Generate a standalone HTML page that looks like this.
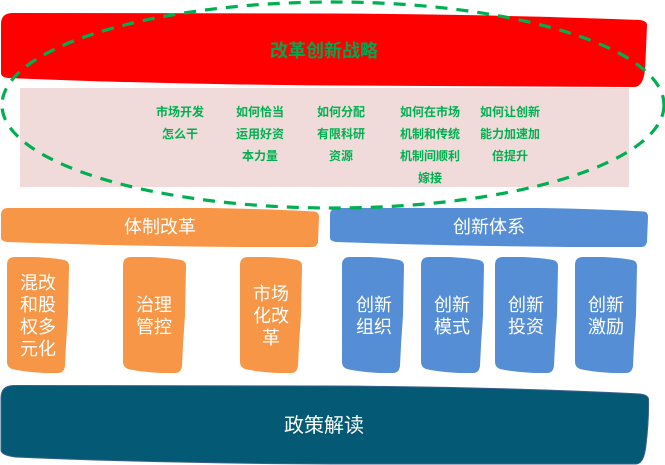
<!DOCTYPE html>
<html lang="zh">
<head>
<meta charset="utf-8">
<style>
html,body{margin:0;padding:0;background:#fff;width:665px;height:465px;overflow:hidden}
svg{display:block}
text{font-family:"Liberation Sans","Noto Sans CJK SC",sans-serif;text-anchor:middle;dominant-baseline:central}
.g{font-size:12px;font-weight:700;fill:#00B050}
.w{font-size:18px;fill:#fff}
</style>
</head>
<body>
<svg width="665" height="465" viewBox="0 0 665 465" xmlns="http://www.w3.org/2000/svg">
<path d="M1 24Q1 13 13 13L332 13.500Q500 14.500 640 20Q647 21 647 25Q646 50 645 70Q643 87 634 87L332 85.500Q150 84 8 78Q1 77 1 73Z" fill="#FF0000"/>
<rect x="20" y="88" width="609" height="99" fill="#F0DBDA"/>
<path d="M1 215Q1 208 8 208L210 208Q270 209 314 211.500Q319 212 319 217L318 242Q317 247 312 247L240 247Q120 246 7 242Q1 241 1 238Z" fill="#F79646"/>
<path d="M330 215Q330 208 337 208L540 208Q600 209 644 211.500Q648 212 648 217L647 242Q646 247 641 247L570 247Q450 246 336 242Q330 241 330 238Z" fill="#558ED5"/>
<g fill="#F79646">
<path d="M7 265Q7 257 15 257L35 257Q55 258 64 260Q69 261 69 266L68 315L66 345L65 366Q64 373 58 373L45 373Q25 372 12 369Q7 367 7 362Z"/>
<path d="M123 265Q123 257 131 257L151 257Q171 258 181 260Q186 261 186 266L185 315L183 345L182 366Q181 373 175 373L162 373Q141 372 128 369Q123 367 123 362Z"/>
<path d="M240 265Q240 257 248 257L268 257Q288 258 297 260Q302 261 302 266L301 315L299 345L298 366Q297 373 291 373L278 373Q258 372 245 369Q240 367 240 362Z"/>
</g>
<g fill="#558ED5">
<path d="M342 265Q342 257 350 257L370 257Q390 258 399 260Q404 261 404 266L403 315L401 345L400 366Q399 373 393 373L380 373Q360 372 347 369Q342 367 342 362Z"/>
<path d="M421 265Q421 257 429 257L449 257Q469 258 479 260Q484 261 484 266L483 315L481 345L480 366Q479 373 473 373L460 373Q439 372 426 369Q421 367 421 362Z"/>
<path d="M495 265Q495 257 503 257L523 257Q543 258 553 260Q558 261 558 266L557 315L555 345L554 366Q553 373 547 373L534 373Q513 372 500 369Q495 367 495 362Z"/>
<path d="M575 265Q575 257 583 257L603 257Q623 258 632 260Q637 261 637 266L636 315L634 345L633 366Q632 373 626 373L613 373Q593 372 580 369Q575 367 575 362Z"/>
</g>
<path d="M1 398Q1 385.500 14 385.500L332 386Q500 387 640 394Q648 395 648.500 399Q649 420 646 445Q644 464 636 464L332 464Q150 463 15 457Q1 455 1 450Z" fill="#045A75" stroke="#3B5F8C" stroke-width="1"/>
<ellipse cx="333" cy="105" rx="331" ry="103" fill="none" stroke="#00B050" stroke-width="3.200" stroke-dasharray="12 9"/>
<g transform="translate(0,1)">
<text x="324" y="50" font-size="18" font-weight="700" fill="#00A650">改革创新战略</text>
<text class="g" x="180" y="111">市场开发</text><text class="g" x="180" y="133">怎么干</text>
<text class="g" x="260" y="111">如何恰当</text><text class="g" x="260" y="133">运用好资</text><text class="g" x="260" y="155">本力量</text>
<text class="g" x="341" y="111">如何分配</text><text class="g" x="341" y="133">有限科研</text><text class="g" x="341" y="155">资源</text>
<text class="g" x="430" y="111">如何在市场</text><text class="g" x="430" y="133">机制和传统</text><text class="g" x="430" y="155">机制间顺利</text><text class="g" x="430" y="177">嫁接</text>
<text class="g" x="510" y="111">如何让创新</text><text class="g" x="510" y="133">能力加速加</text><text class="g" x="510" y="155">倍提升</text>
<text class="w" x="160" y="226">体制改革</text>
<text class="w" x="489" y="226">创新体系</text>
<text class="w" x="38" y="282">混改</text><text class="w" x="38" y="304">和股</text><text class="w" x="38" y="326">权多</text><text class="w" x="38" y="348">元化</text>
<text class="w" x="154" y="304">治理</text><text class="w" x="154" y="326">管控</text>
<text class="w" x="271" y="293">市场</text><text class="w" x="271" y="315">化改</text><text class="w" x="271" y="337">革</text>
<text class="w" x="374" y="304">创新</text><text class="w" x="374" y="326">组织</text>
<text class="w" x="452" y="304">创新</text><text class="w" x="452" y="326">模式</text>
<text class="w" x="526" y="304">创新</text><text class="w" x="526" y="326">投资</text>
<text class="w" x="606" y="304">创新</text><text class="w" x="606" y="326">激励</text>
<text x="324" y="425" font-size="20" fill="#fff">政策解读</text>
</g>
</svg>
</body>
</html>
